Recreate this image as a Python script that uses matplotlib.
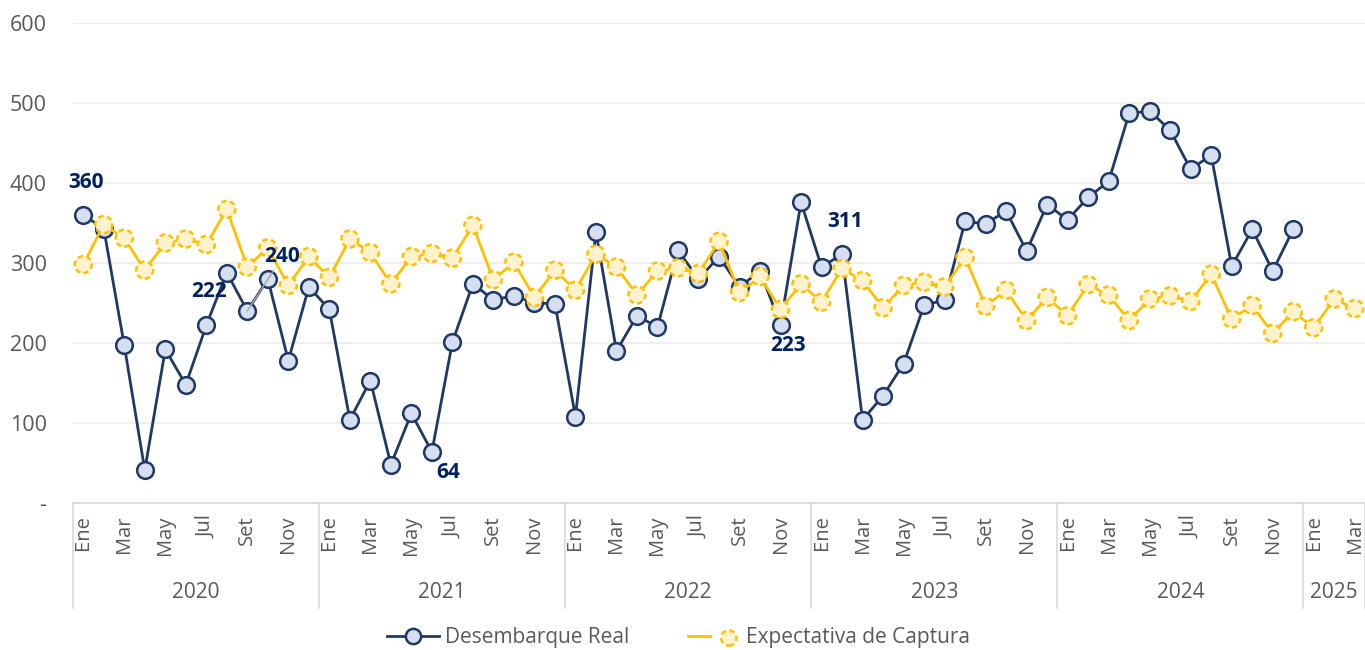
import matplotlib
matplotlib.use("Agg")
import matplotlib.pyplot as plt
from matplotlib.lines import Line2D
from matplotlib.legend_handler import HandlerTuple
import matplotlib.transforms as mtransforms

plt.rcParams['font.family'] = ['Open Sans', 'DejaVu Sans']

# ---------------- data ----------------
months = ["Ene", "Feb", "Mar", "Abr", "May", "Jun", "Jul", "Ago", "Set", "Oct", "Nov", "Dic"]
years = ["2020", "2021", "2022", "2023", "2024", "2025"]
months_in_year = [12, 12, 12, 12, 12, 3]

desembarque_real = [
    360, 343, 197, 41, 192, 148, 222, 288, 240, 280, 178, 270,   # 2020
    242, 104, 153, 48, 112, 64, 201, 274, 254, 259, 250, 249,    # 2021
    108, 339, 190, 234, 220, 316, 280, 308, 270, 290, 223, 376,  # 2022
    295, 311, 104, 134, 174, 247, 254, 352, 349, 365, 315, 373,  # 2023
    354, 382, 402, 487, 490, 466, 417, 435, 296, 342, 290, 342,  # 2024
]
expectativa_captura = [
    298, 348, 331, 291, 325, 330, 323, 367, 295, 319, 272, 308,  # 2020
    282, 330, 313, 274, 308, 312, 306, 347, 279, 301, 257, 291,  # 2021
    266, 311, 295, 260, 290, 294, 287, 327, 263, 283, 242, 274,  # 2022
    251, 293, 278, 244, 272, 276, 270, 307, 246, 266, 228, 257,  # 2023
    234, 273, 260, 228, 255, 259, 252, 286, 230, 247, 212, 239,  # 2024
    219, 255, 243,                                               # 2025
]
# labelled points of the real series
labelled_idx = [0, 6, 8, 17, 34, 37]
label_offsets_px = [(3, 33), (3, 34), (35, 54), (16, -21), (7, -21), (3, 33)]

y_ticks = [0, 100, 200, 300, 400, 500, 600]

# ---------------- figure ----------------
W, H = 1365, 650
fig = plt.figure(figsize=(W / 100, H / 100), dpi=100)
ax_left, ax_right, ax_top, ax_bottom = 73, 1365, 23, 503
ax = fig.add_axes([ax_left / W, 1 - ax_bottom / H, (ax_right - ax_left) / W, (ax_bottom - ax_top) / H])

n_total = sum(months_in_year)
x_all = list(range(n_total))
x_real = x_all[:len(desembarque_real)]

navy = "#1F3864"
navy_face = "#D6DFF0"
gold = "#FFC000"
gold_face = "#FFF2CC"
grey_text = "#595959"
label_color = "#002060"
dash = (0, (2.2, 1.4))

# blue series
ax.plot(x_real, desembarque_real, color=navy, lw=2.0, marker='o', markersize=12,
        markerfacecolor=navy_face, markeredgecolor=navy, markeredgewidth=1.8, zorder=3)
# yellow series
ax.plot(x_all, expectativa_captura, color=gold, lw=2.0, zorder=4)
sc = ax.scatter(x_all, expectativa_captura, s=150, facecolor=gold_face, edgecolor=gold,
                linewidths=1.8, linestyles=dash, zorder=5)

# data labels
for idx, (dx, dy) in zip(labelled_idx, label_offsets_px):
    val = desembarque_real[idx]
    kw = {}
    if idx == 8:
        kw['arrowprops'] = dict(arrowstyle='-', color='#A6A6A6', lw=1.0, shrinkA=0, shrinkB=0)
    ax.annotate(str(val), xy=(idx, val), xytext=(dx, dy), textcoords='offset pixels',
                ha='center', va='center', fontsize=15, fontweight='bold', color=label_color,
                zorder=6, **kw)

# axes styling
ax.set_xlim(-0.5, n_total - 0.5)
ax.set_ylim(0, 600)
ax.set_yticks(y_ticks)
ax.set_yticklabels(["-" if v == 0 else str(v) for v in y_ticks])
ax.tick_params(axis='y', length=0, pad=19, labelsize=15.5, labelcolor=grey_text)
ax.yaxis.grid(True, color='#EBEBEB', lw=1.2)
ax.set_axisbelow(True)
for s in ['left', 'right', 'top']:
    ax.spines[s].set_visible(False)
ax.spines['bottom'].set_color('#D9D9D9')
ax.spines['bottom'].set_linewidth(1.2)

# month tick labels (every other month)
tick_pos = [i for i in x_all if i % 2 == 0]
ax.set_xticks(tick_pos)
ax.set_xticklabels([months[i % 12] for i in tick_pos], rotation=90, fontsize=14.5, color=grey_text)
ax.tick_params(axis='x', length=0, pad=9)

# year labels and separators
trans = mtransforms.blended_transform_factory(ax.transData, ax.transAxes)
start = 0
sep_bottom = (ax_bottom - 608) / (ax_bottom - ax_top)
year_y = (ax_bottom - 593) / (ax_bottom - ax_top)
for yr, n in zip(years, months_in_year):
    ax.plot([start - 0.5, start - 0.5], [0, sep_bottom], transform=trans, color='#D9D9D9',
            lw=1.2, clip_on=False)
    ax.text(start + (n - 1) / 2, year_y, yr, transform=trans, ha='center', va='center',
            fontsize=15, color=grey_text)
    start += n
ax.plot([start - 0.5, start - 0.5], [0, sep_bottom], transform=trans, color='#D9D9D9',
        lw=1.2, clip_on=False)

# legend
h1 = Line2D([], [], color=navy, lw=2.0, marker='o', markersize=11,
            markerfacecolor=navy_face, markeredgecolor=navy, markeredgewidth=1.8)
h2_line = Line2D([], [], color=gold, lw=2.0)
h2_mark = ax.scatter([], [], s=121, facecolor=gold_face, edgecolor=gold,
                     linewidths=1.8, linestyles=dash)
leg = fig.legend([h1, (h2_line, h2_mark)], ["Desembarque Real", "Expectativa de Captura"],
                 loc='center', bbox_to_anchor=(0.497, 12 / H), ncol=2, frameon=False,
                 fontsize=15, handlelength=2.5, handletextpad=0.3, columnspacing=2.8,
                 scatterpoints=1, handler_map={tuple: HandlerTuple(ndivide=None)})
for t in leg.get_texts():
    t.set_color(grey_text)

fig.savefig("out.png", dpi=100)
